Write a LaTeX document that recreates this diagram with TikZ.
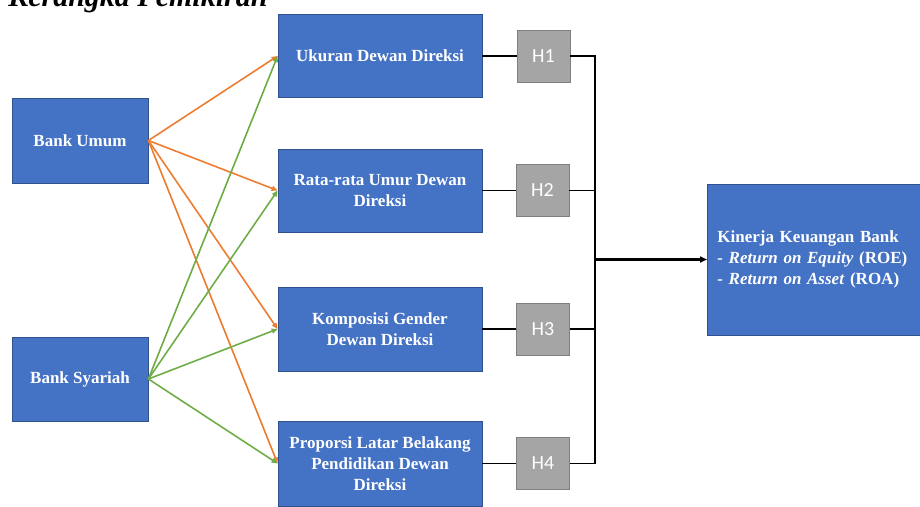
\documentclass[tikz,border=0pt]{standalone}
\usepackage{fontspec}
\setmainfont{Liberation Serif}
\newfontfamily\hfont{Carlito}
\usetikzlibrary{arrows.meta,positioning}

\definecolor{boxblue}{HTML}{4472C4}
\definecolor{boxline}{HTML}{2F528F}
\definecolor{hgray}{HTML}{A5A5A5}
\definecolor{hline}{HTML}{7F7F7F}
\definecolor{umumline}{HTML}{ED7D31}
\definecolor{syariahline}{HTML}{70AD47}

\begin{document}
\begin{tikzpicture}[x=1pt,y=-1pt,
box/.style={rectangle,draw=boxline,fill=boxblue,line width=0.8pt,text=white,
  font=\fontsize{17}{21}\selectfont\bfseries,align=center},
hyp/.style={rectangle,draw=hline,fill=hgray,line width=0.8pt,text=white,
  minimum width=53pt,minimum height=52pt,font=\hfont\fontsize{20}{24}\selectfont},
ua/.style={draw=umumline,line width=1.6pt,-{Triangle[length=6pt,width=5pt]}},
sa/.style={draw=syariahline,line width=1.6pt,-{Triangle[length=6pt,width=5pt]}},
link/.style={draw=black,line width=1.6pt}]
\useasboundingbox (0,0) rectangle (920,506);

\node (title) [anchor=base east,font=\fontsize{30}{36}\selectfont\bfseries\itshape]
  at (271,6) {Kerangka Pemikiran};

% bank
\node (bu) [box,minimum width=136pt,minimum height=85pt] at (80,140.5) {Bank Umum};
\node (bs) [box,minimum width=136pt,minimum height=84pt] at (80,379) {Bank Syariah};

% dewan direksi
\node (d1) [box,minimum width=204pt,minimum height=83pt] at (380,56) {Ukuran Dewan Direksi};
\node (d2) [box,minimum width=204pt,minimum height=83pt] at (380,190.5) {Rata-rata Umur Dewan\\Direksi};
\node (d3) [box,minimum width=204pt,minimum height=84pt] at (380,329) {Komposisi Gender\\Dewan Direksi};
\node (d4) [box,minimum width=204pt,minimum height=85pt] at (380,463.5) {Proporsi Latar Belakang\\Pendidikan Dewan\\Direksi};

% hipotesis
\node (h1) [hyp] at (543.5,56) {H1};
\node (h2) [hyp] at (542.5,190.5) {H2};
\node (h3) [hyp] at (543,329) {H3};
\node (h4) [hyp] at (543,463.5) {H4};

\node (kin) [box,anchor=west,minimum height=151pt,text width=200pt,inner xsep=10pt,align=left]
  at (707,259.5) {Kinerja Keuangan Bank\\\textit{- Return on Equity} (ROE)\\\textit{- Return on Asset} (ROA)};

\coordinate (bus) at (595,259.5);

\draw[ua] (bu.east) -- (d1.west);
\draw[ua] (bu.east) -- (d2.west);
\draw[ua] (bu.east) -- (d3.west);
\draw[ua] (bu.east) -- (d4.west);
\draw[sa] (bs.east) -- (d1.west);
\draw[sa] (bs.east) -- (d2.west);
\draw[sa] (bs.east) -- (d3.west);
\draw[sa] (bs.east) -- (d4.west);

\draw[link] (d1) -- (h1);
\draw[link] (d2) -- (h2);
\draw[link] (d3) -- (h3);
\draw[link] (d4) -- (h4);
\draw[link] (h1.east) -| (bus) |- (h4.east);
\draw[link] (h2.east) -- (h2.east -| bus);
\draw[link] (h3.east) -- (h3.east -| bus);
\draw[link,line width=2.2pt,-{Triangle[length=7pt,width=6pt]}] (bus) -- (kin);

\end{tikzpicture}
\end{document}
